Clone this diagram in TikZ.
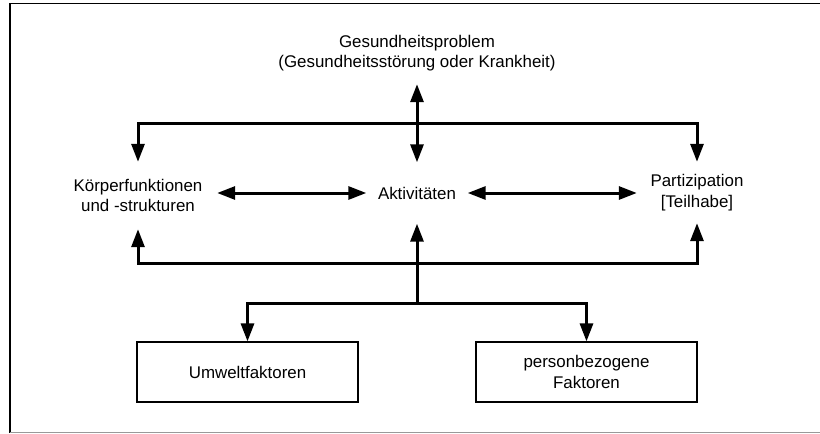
\documentclass[tikz,border=0pt]{standalone}
\usepackage{fontspec}
\setmainfont{Liberation Sans}
\usetikzlibrary{arrows.meta}

\tikzset{
  txt/.style={inner sep=0pt, align=center, font=\fontsize{16.9}{20.5}\selectfont},
  factorbox/.style={txt, draw, line width=1.2pt, minimum width=221pt, minimum height=60pt},
  link/.style={line width=3pt, line join=miter},
  tip/.tip={Triangle[length=18pt, width=13pt]},
  both/.style={link, tip-tip},
  fwd/.style={link, -tip},
}

\begin{document}
\begin{tikzpicture}[x=1pt, y=-1pt]
  \useasboundingbox (0,0) rectangle (820,434);

  % outer frame (open on the right)
  \draw[line width=1.3pt] (820,3.5) -- (10,3.5) -- (10,432.5);
  \draw[line width=1.3pt, black!40] (10,432.5) -- (820,432.5);

  % labels
  \node[txt, minimum height=62pt] (problem) at (417,53)
    {Gesundheitsproblem\\(Gesundheitsstörung oder Krankheit)};
  \node[txt, minimum width=158pt, minimum height=67pt] (koerper) at (138,195.5)
    {Körperfunktionen\\und -strukturen};
  \node[txt, minimum width=101pt, minimum height=61pt] (akt) at (417,193)
    {Aktivitäten};
  \node[txt, minimum width=120pt, minimum height=61pt] (partiz) at (697,192.5)
    {Partizipation\\{[Teilhabe]}};

  % context factors
  \node[factorbox] (umwelt) at (247.5,372) {Umweltfaktoren};
  \node[factorbox] (person) at (586.5,372) {personbezogene\\Faktoren};

  % junctions
  \coordinate (topbar) at (417,123);
  \coordinate (botbar) at (417,263);
  \coordinate (branch) at (417,303);

  % connectors
  \draw[both] (problem.south) -- (akt.north);
  \draw[both] (koerper.north) |- (topbar) -| (partiz.north);
  \draw[both] (akt.west -| koerper.east) -- (akt.west);
  \draw[both] (akt.east) -- (akt.east -| partiz.west);
  \draw[both] (koerper.south) |- (botbar) -| (partiz.south);
  \draw[fwd] (branch) -- (akt.south);
  \draw[both] (umwelt.north) |- (branch) -| (person.north);
\end{tikzpicture}
\end{document}
